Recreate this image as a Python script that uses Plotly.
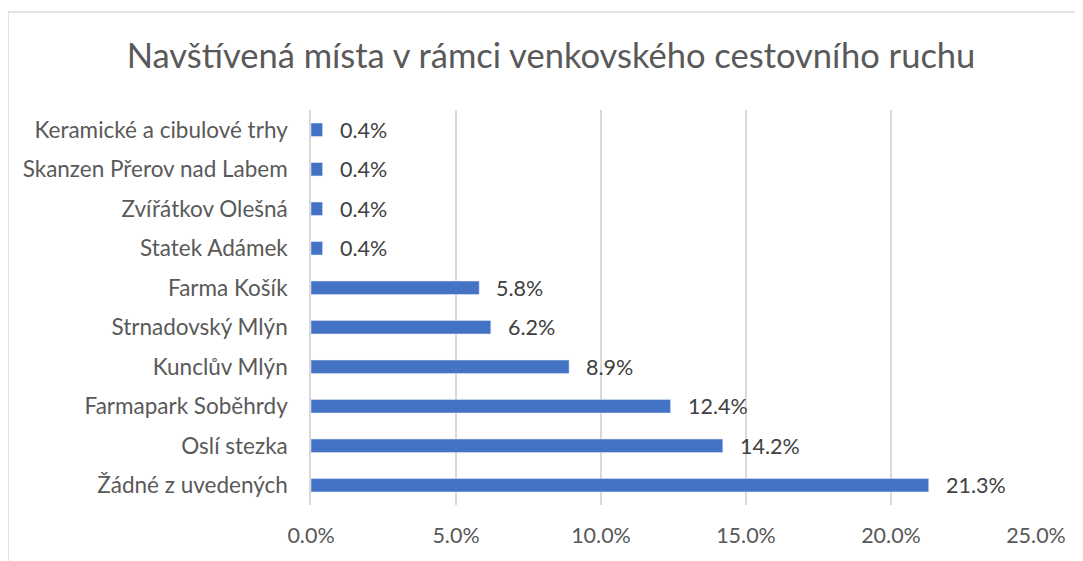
import plotly.graph_objects as go

categories = ["Žádné z uvedených", "Oslí stezka", "Farmapark Soběhrdy", "Kunclův Mlýn",
              "Strnadovský Mlýn", "Farma Košík", "Statek Adámek", "Zvířátkov Olešná",
              "Skanzen Přerov nad Labem", "Keramické a cibulové trhy"]
values = [21.3, 14.2, 12.4, 8.9, 6.2, 5.8, 0.4, 0.4, 0.4, 0.4]
tick_vals = [0, 5, 10, 15, 20, 25]
tick_text = ["0.0%", "5.0%", "10.0%", "15.0%", "20.0%", "25.0%"]

FONT = "Lato, Open Sans, sans-serif"

fig = go.Figure(go.Bar(
    x=values, y=categories, orientation="h",
    marker=dict(color="#4472C4"),
    width=0.34,
    cliponaxis=False,
))

for v, c in zip(values, categories):
    fig.add_annotation(x=v, y=c, xref="x", yref="y", text=f"{v:.1f}%",
                       showarrow=False, xanchor="left", yanchor="middle",
                       xshift=15, font=dict(size=21.5, color="#404040", family=FONT))

# page offset (body margin) of 8px is compensated
OFF = 8
W, H = 1083, 561
L, T = 311 - OFF, 110 - OFF
R = W - (1036 - OFF)
B = H - (505 - OFF)
pw, ph = W - L - R, H - T - B

def px(x):
    return (x - OFF - L) / pw

def py(y):
    return (H - B - (y - OFF)) / ph

fig.update_layout(
    width=W, height=H,
    margin=dict(l=L, r=R, t=T, b=B, autoexpand=False),
    paper_bgcolor="white", plot_bgcolor="white",
    showlegend=False,
    title=dict(text="Navštívená místa v rámci venkovského cestovního ruchu",
               x=px(551), xref="paper", xanchor="center",
               y=1 - (56 - OFF) / H, yanchor="middle",
               font=dict(size=34.5, color="#595959", family=FONT)),
    xaxis=dict(range=[0, 25], tickvals=tick_vals, ticktext=tick_text,
               showgrid=True, gridcolor="#D9D9D9", gridwidth=1.5,
               zeroline=False, showline=False, ticks="",
               tickfont=dict(size=21.5, color="#595959", family=FONT),
               ticklabelstandoff=15),
    yaxis=dict(showgrid=False, zeroline=False, showline=True,
               linecolor="#D9D9D9", linewidth=1.5, ticks="",
               tickfont=dict(size=22.5, color="#595959", family=FONT),
               ticklabelstandoff=17, range=[-0.5, 9.5]),
    shapes=[
        dict(type="line", xref="paper", yref="paper", x0=px(8), x1=px(1100),
             y0=py(12), y1=py(12), line=dict(color="#D9D9D9", width=1.5)),
        dict(type="line", xref="paper", yref="paper", x0=px(8), x1=px(8),
             y0=py(12), y1=py(580), line=dict(color="#D9D9D9", width=1.5)),
    ],
)

fig.write_html("out.html")
